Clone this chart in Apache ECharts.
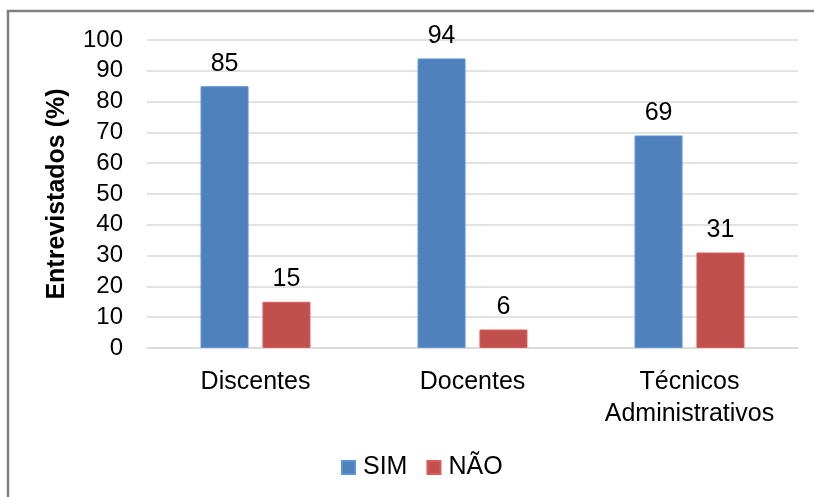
<!DOCTYPE html>
<html>
<head>
<meta charset="utf-8">
<script src="https://cdn.jsdelivr.net/npm/echarts@6/dist/echarts.min.js"></script>
<style>
  html, body { margin: 0; padding: 0; background: #fff; }
  #chart { width: 814px; height: 497px; }
</style>
</head>
<body>
<div id="chart"></div>
<script>
// categorias e valores (%)
const categories = ['Discentes', 'Docentes', 'Técnicos\nAdministrativos']
const simValues = [85, 94, 69]
const naoValues = [15, 6, 31]
const seriesNames = ['SIM', 'NÃO']
const colors = ['#4F81BD', '#C0504D']

const fontFamily = '"Liberation Sans", Arial, sans-serif'

let chart = echarts.init(document.getElementById('chart'))

function makeSeries(name, values, color) {
  return {
    name: name,
    type: 'bar',
    data: values,
    barWidth: 48,
    barGap: '29%',
    itemStyle: {
      color: color,
      borderColor: echarts.color.lift(color, -0.15),
      borderWidth: 1
    },
    label: {
      show: true,
      position: 'top',
      distance: 10,
      color: '#000',
      fontSize: 25,
      fontFamily: fontFamily
    }
  }
}

let option = {
  animation: false,
  backgroundColor: '#fff',
  textStyle: { fontFamily: fontFamily },
  graphic: [{
    type: 'rect',
    shape: { x: 8, y: 11, width: 900, height: 600 },
    style: { fill: 'none', stroke: '#7f7f7f', lineWidth: 2.5 },
    silent: true
  }],
  legend: {
    data: seriesNames,
    bottom: 17,
    left: 341,
    padding: 0,
    itemWidth: 13,
    itemHeight: 13,
    itemGap: 19,
    icon: 'rect',
    textStyle: { color: '#000', fontSize: 25, fontFamily: fontFamily, padding: [0, 0, 0, 3] }
  },
  grid: {
    top: 40,
    left: 147,
    right: 16,
    bottom: 149
  },
  xAxis: {
    type: 'category',
    data: categories,
    axisLine: { show: true, lineStyle: { color: '#d9d9d9', width: 1.5 } },
    axisTick: { show: false },
    axisLabel: {
      interval: 0,
      hideOverlap: false,
      color: '#000',
      fontSize: 25,
      margin: 18,
      lineHeight: 32,
      fontFamily: fontFamily
    }
  },
  yAxis: {
    type: 'value',
    min: 0,
    max: 100,
    interval: 10,
    name: 'Entrevistados (%)',
    nameLocation: 'middle',
    nameGap: 77,
    nameTextStyle: { color: '#000', fontSize: 25, fontWeight: 'bold', fontFamily: fontFamily },
    axisLine: { show: false },
    axisTick: { show: false },
    axisLabel: { color: '#000', fontSize: 24, margin: 24, fontFamily: fontFamily },
    splitLine: { lineStyle: { color: '#d9d9d9', width: 1.5 } }
  },
  series: [
    makeSeries(seriesNames[0], simValues, colors[0]),
    makeSeries(seriesNames[1], naoValues, colors[1])
  ]
}

chart.setOption(option)
</script>
</body>
</html>
